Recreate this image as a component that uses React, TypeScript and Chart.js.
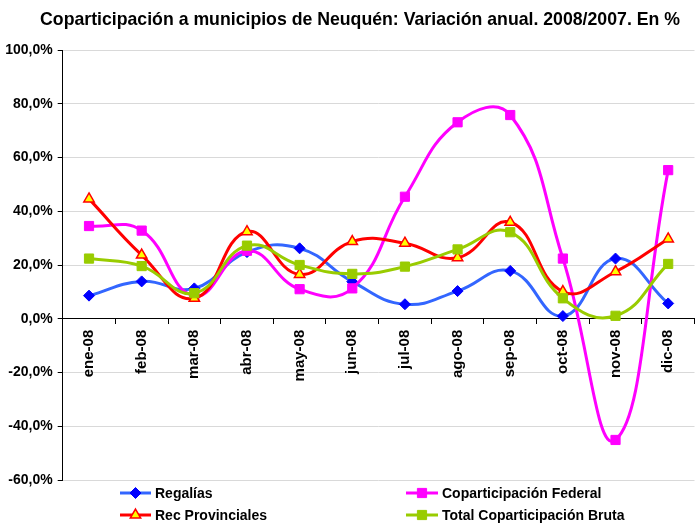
import React, { useEffect, useRef } from 'react';
import { Chart, registerables } from 'chart.js';
import { drawPoint } from 'chart.js/helpers';

Chart.register(...registerables);

const TITLE = 'Coparticipación a municipios de Neuquén: Variación anual. 2008/2007. En %';

const categories = ['ene-08', 'feb-08', 'mar-08', 'abr-08', 'may-08', 'jun-08', 'jul-08', 'ago-08', 'sep-08', 'oct-08', 'nov-08', 'dic-08'];

const seriesNames = ['Regalías', 'Coparticipación Federal', 'Rec Provinciales', 'Total Coparticipación Bruta'];

const regalias = [8.6, 13.9, 11.3, 24.8, 26.2, 13.8, 5.4, 10.3, 17.8, 1.0, 22.4, 5.7];
const copFederal = [34.5, 32.8, 8.5, 25.3, 11.0, 11.3, 45.4, 73.1, 75.8, 22.4, -45.1, 55.3];
const recProvinciales = [44.6, 23.7, 7.6, 32.4, 16.5, 28.7, 28.1, 22.7, 35.9, 10.1, 17.5, 29.7];
const totalBruta = [22.4, 19.6, 9.5, 27.2, 20.0, 16.7, 19.4, 25.8, 32.2, 7.6, 1.1, 20.4];

const yMin = -60;
const yMax = 100;
const yStep = 20;

const FONT = '"Liberation Sans", Arial, Helvetica, sans-serif';

const fmtPct = (v: number) => v.toFixed(1).replace('.', ',') + '%';

const overlayPlugin = {
  id: 'overlay',
  afterDraw(chart: any) {
    const ctx = chart.ctx as CanvasRenderingContext2D;
    ctx.save();
    ctx.fillStyle = '#000';
    ctx.font = `bold 17.7px ${FONT}`;
    ctx.textAlign = 'center';
    ctx.textBaseline = 'middle';
    ctx.fillText(TITLE, 360, 20);

    const items = [
      { ds: 0, x1: 120, x2: 151, y: 493 },
      { ds: 1, x1: 406, x2: 438, y: 493 },
      { ds: 2, x1: 120, x2: 151, y: 515 },
      { ds: 3, x1: 406, x2: 438, y: 515 },
    ];
    ctx.font = `bold 14px ${FONT}`;
    ctx.textAlign = 'left';
    items.forEach((it) => {
      const d: any = chart.data.datasets[it.ds];
      ctx.strokeStyle = d.borderColor;
      ctx.lineWidth = d.borderWidth;
      ctx.beginPath();
      ctx.moveTo(it.x1, it.y);
      ctx.lineTo(it.x2, it.y);
      ctx.stroke();
      ctx.fillStyle = d.pointBackgroundColor;
      ctx.strokeStyle = d.pointBorderColor;
      ctx.lineWidth = d.pointBorderWidth;
      drawPoint(ctx, { pointStyle: d.pointStyle, radius: d.pointRadius, rotation: 0, borderWidth: d.pointBorderWidth }, (it.x1 + it.x2) / 2, it.y);
      ctx.fillStyle = '#000';
      ctx.textBaseline = 'middle';
      ctx.fillText(d.label, it.x2 + 4, it.y + 1);
    });
    ctx.restore();
  },
};

export default function App() {
  const ref = useRef<HTMLCanvasElement | null>(null);

  useEffect(() => {
    if (!ref.current) return;
    const chart = new Chart(ref.current, {
      type: 'line',
      data: {
        labels: categories,
        datasets: [
          {
            label: seriesNames[0],
            data: regalias,
            borderColor: '#3366ff',
            borderWidth: 3,
            pointStyle: 'rectRot',
            pointRadius: 5.5,
            pointBackgroundColor: '#0000ff',
            pointBorderColor: '#0000ff',
            pointBorderWidth: 1,
            tension: 0.45,
            order: 3,
          },
          {
            label: seriesNames[1],
            data: copFederal,
            borderColor: '#ff00ff',
            borderWidth: 3,
            pointStyle: 'rect',
            pointRadius: 6.5,
            pointBackgroundColor: '#ff00ff',
            pointBorderColor: '#ff00ff',
            pointBorderWidth: 1,
            tension: 0.45,
            order: 2,
          },
          {
            label: seriesNames[2],
            data: recProvinciales,
            borderColor: '#ff0000',
            borderWidth: 3,
            pointStyle: 'triangle',
            pointRadius: 6,
            pointBackgroundColor: '#ffff00',
            pointBorderColor: '#ff0000',
            pointBorderWidth: 1.5,
            tension: 0.45,
            order: 1,
          },
          {
            label: seriesNames[3],
            data: totalBruta,
            borderColor: '#99cc00',
            borderWidth: 3,
            pointStyle: 'rect',
            pointRadius: 6.5,
            pointBackgroundColor: '#99cc00',
            pointBorderColor: '#99cc00',
            pointBorderWidth: 1,
            tension: 0.45,
            order: 0,
          },
        ],
      },
      options: {
        animation: false,
        responsive: false,
        devicePixelRatio: 1,
        layout: { padding: { top: 50, bottom: 45, left: 0, right: 1 } },
        plugins: {
          legend: { display: false },
          title: { display: false },
          tooltip: { enabled: false },
        },
        scales: {
          x: {
            type: 'category',
            position: { y: 0 } as any,
            offset: true,
            grid: {
              display: true,
              drawOnChartArea: false,
              drawTicks: true,
              tickLength: 5,
              color: '#000',
              offset: true,
            },
            border: { display: true, color: '#000', width: 1 },
            ticks: {
              autoSkip: false,
              maxRotation: 90,
              minRotation: 90,
              padding: 6,
              color: '#000',
              font: { family: FONT, size: 15, weight: 'bold' },
            },
          },
          y: {
            min: yMin,
            max: yMax,
            afterFit: (s: any) => { s.width = 62.7; },
            grid: {
              color: '#d9d9d9',
              lineWidth: 1,
              drawTicks: true,
              tickLength: 5,
              tickColor: '#000',
            },
            border: { display: true, color: '#000', width: 1 },
            ticks: {
              stepSize: yStep,
              padding: 5,
              color: '#000',
              font: { family: FONT, size: 14, weight: 'bold' },
              callback: (v: any) => fmtPct(Number(v)),
            },
          },
        },
      },
      plugins: [overlayPlugin],
    });
    return () => chart.destroy();
  }, []);

  return (
    <div style={{ position: 'absolute', left: 0, top: 0, width: 695, height: 525, overflow: 'hidden', background: '#fff' }}>
      <canvas ref={ref} width={702} height={525} style={{ display: 'block', width: 702, height: 525 }} />
    </div>
  );
}
